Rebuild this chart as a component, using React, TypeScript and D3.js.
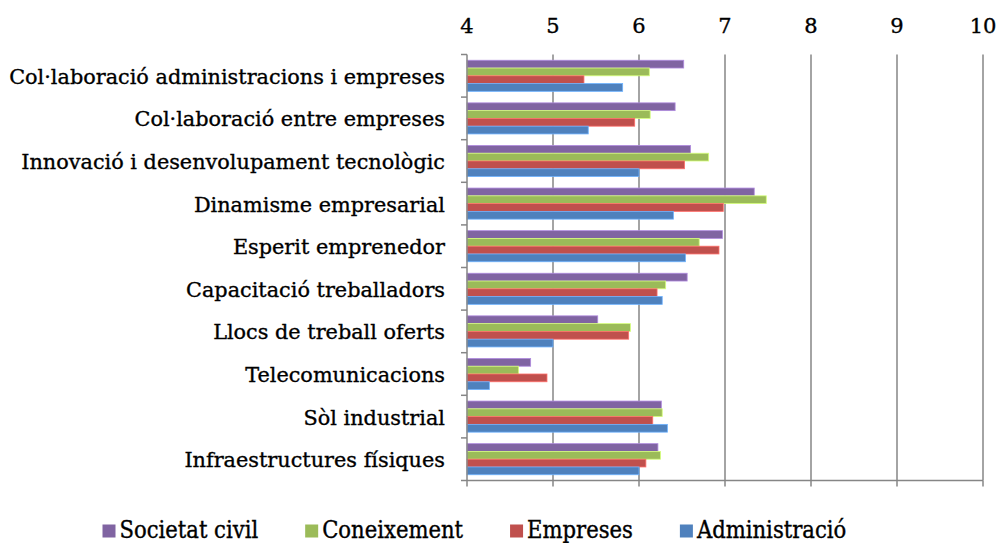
import React, { useEffect, useRef } from "react";
import * as d3 from "d3";

const categories = [
  "Col·laboració administracions i empreses",
  "Col·laboració entre empreses",
  "Innovació i desenvolupament tecnològic",
  "Dinamisme empresarial",
  "Esperit emprenedor",
  "Capacitació treballadors",
  "Llocs de treball oferts",
  "Telecomunicacions",
  "Sòl industrial",
  "Infraestructures físiques",
];

const societatCivil = [6.52, 6.42, 6.6, 7.34, 6.97, 6.56, 5.52, 4.74, 6.26, 6.22];
const coneixement = [6.12, 6.13, 6.81, 7.48, 6.7, 6.31, 5.9, 4.6, 6.27, 6.25];
const empreses = [5.36, 5.95, 6.53, 6.98, 6.93, 6.21, 5.88, 4.93, 6.16, 6.08];
const administracio = [5.81, 5.41, 6.0, 6.4, 6.54, 6.27, 5.0, 4.26, 6.33, 6.0];

const seriesNames = ["Societat civil", "Coneixement", "Empreses", "Administració"];
const seriesColors = ["#8064A2", "#9BBB59", "#C0504D", "#4F81BD"];
const seriesValues = [societatCivil, coneixement, empreses, administracio];

const xTicks = [4, 5, 6, 7, 8, 9, 10];

const W = 1000;
const H = 543;
const FONT = "'DejaVu Serif', serif";

export default function App() {
  const ref = useRef<SVGSVGElement | null>(null);

  useEffect(() => {
    const svg = d3.select(ref.current);
    svg.selectAll("*").remove();

    const left = 467;
    const right = 983;
    const top = 54.5;
    const bottom = 480.5;

    const x = d3.scaleLinear().domain([4, 10]).range([left, right]);
    const y = d3
      .scaleBand<string>()
      .domain(categories)
      .range([top, bottom])
      .paddingInner(0.27)
      .paddingOuter(0.135);
    const ys = d3
      .scaleBand<string>()
      .domain(seriesNames)
      .range([0, y.bandwidth()]);

    const gridColor = "#868686";

    // gridlines
    svg
      .append("g")
      .selectAll("line")
      .data(xTicks.slice(1))
      .join("line")
      .attr("x1", (d) => x(d))
      .attr("x2", (d) => x(d))
      .attr("y1", top)
      .attr("y2", bottom)
      .attr("stroke", gridColor)
      .attr("stroke-width", 1.5);

    // bars
    const groups = svg
      .append("g")
      .selectAll("g")
      .data(categories)
      .join("g")
      .attr("transform", (d) => `translate(0,${y(d)})`);

    groups
      .selectAll("rect")
      .data((_, i) =>
        seriesNames.map((s, j) => ({ s, j, v: seriesValues[j][i] }))
      )
      .join("rect")
      .attr("x", x(4))
      .attr("y", (d) => ys(d.s) as number)
      .attr("width", (d) => x(d.v) - x(4))
      .attr("height", ys.bandwidth())
      .attr("fill", (d) => seriesColors[d.j])
      .attr("stroke", (d) => (d3.color(seriesColors[d.j]) as any).brighter(0.9).formatHex())
      .attr("stroke-width", 0.8);

    // axes lines
    svg
      .append("line")
      .attr("x1", left)
      .attr("x2", left)
      .attr("y1", top)
      .attr("y2", bottom)
      .attr("stroke", gridColor)
      .attr("stroke-width", 1.5);
    svg
      .append("line")
      .attr("x1", left)
      .attr("x2", right)
      .attr("y1", bottom)
      .attr("y2", bottom)
      .attr("stroke", gridColor)
      .attr("stroke-width", 1.5);

    // left ticks at band boundaries
    const step = y.step();
    svg
      .append("g")
      .selectAll("line")
      .data(d3.range(categories.length + 1))
      .join("line")
      .attr("x1", left - 6)
      .attr("x2", left)
      .attr("y1", (i) => top + i * step)
      .attr("y2", (i) => top + i * step)
      .attr("stroke", gridColor)
      .attr("stroke-width", 1.5);

    // bottom ticks
    svg
      .append("g")
      .selectAll("line")
      .data(xTicks)
      .join("line")
      .attr("x1", (d) => x(d))
      .attr("x2", (d) => x(d))
      .attr("y1", bottom)
      .attr("y2", bottom + 6)
      .attr("stroke", gridColor)
      .attr("stroke-width", 1.5);

    // top tick labels
    svg
      .append("g")
      .selectAll("text")
      .data(xTicks)
      .join("text")
      .attr("x", (d) => x(d))
      .attr("y", 33)
      .attr("text-anchor", "middle")
      .attr("font-family", FONT)
      .attr("font-size", 21)
      .attr("fill", "#000")
      .attr("stroke", "#000")
      .attr("stroke-width", 0.35)
      .text((d) => String(d));

    // category labels
    svg
      .append("g")
      .selectAll("text")
      .data(categories)
      .join("text")
      .attr("x", 445)
      .attr("y", (d) => (y(d) as number) + y.bandwidth() / 2 + 8)
      .attr("text-anchor", "end")
      .attr("font-family", FONT)
      .attr("font-size", 20.8)
      .attr("fill", "#000")
      .attr("stroke", "#000")
      .attr("stroke-width", 0.35)
      .text((d) => d);

    // legend
    const lg = svg.append("g");
    let cx = 102.5;
    seriesNames.forEach((name, j) => {
      lg.append("rect")
        .attr("x", cx)
        .attr("y", 524.5)
        .attr("width", 13)
        .attr("height", 13)
        .attr("fill", seriesColors[j]);
      const t = lg
        .append("text")
        .attr("x", cx + 17)
        .attr("y", 537.5)
        .attr("font-family", FONT)
        .attr("font-stretch", "condensed")
        .attr("font-size", 23.5)
        .attr("fill", "#000")
        .attr("stroke", "#000")
        .attr("stroke-width", 0.35)
        .text(name);
      const w = (t.node() as SVGTextElement).getComputedTextLength();
      cx += 17 + w + 47;
    });
  }, []);

  return (
    <svg
      ref={ref}
      width={W}
      height={H}
      style={{ position: "absolute", left: 0, top: 0, background: "#fff" }}
    />
  );
}
